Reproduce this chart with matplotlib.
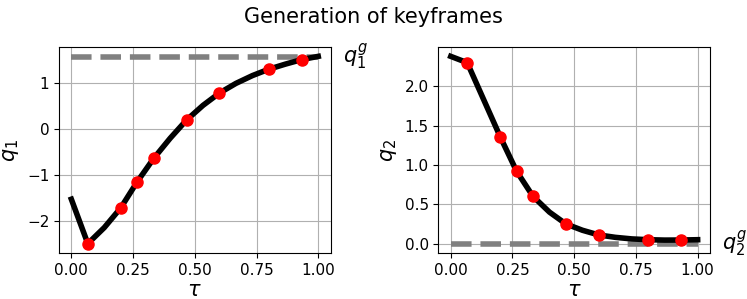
import numpy as np
import matplotlib
matplotlib.use("Agg")
import matplotlib.pyplot as plt

# trajectory samples at tau = k/15
tau = np.arange(16) / 15
q1 = [-1.53, -2.50, -2.15, -1.72, -1.15, -0.64, -0.20, 0.20,
      0.52, 0.79, 1.00, 1.17, 1.31, 1.42, 1.52, 1.59]
q2 = [2.38, 2.30, 1.83, 1.36, 0.92, 0.60, 0.40, 0.25,
      0.17, 0.11, 0.08, 0.06, 0.05, 0.045, 0.046, 0.05]
goals = [np.pi / 2, 0.0]

# keyframe indices
key_idx = [1, 3, 4, 5, 7, 9, 12, 14]

names = ['q_1', 'q_2']
series = [q1, q2]

fig, axes = plt.subplots(1, 2, figsize=(7.47, 2.99), dpi=100)
fig.subplots_adjust(left=59/747, right=710/747, bottom=1-253/299, top=1-47/299, wspace=0.397)
fig.text(0.5, 1 - 17/299, 'Generation of keyframes', ha='center', va='center', fontsize=15)

for ax, q, g, name in zip(axes, series, goals, names):
    q = np.array(q)
    ax.plot([0, 1], [g, g], '--', color='gray', lw=4)
    ax.plot(tau, q, color='black', lw=4)
    ax.plot(tau[key_idx], q[key_idx], 'o', color='red', markersize=8)
    ax.text(1.1, g, '$%s^g$' % name, fontsize=15, va='center', ha='left')
    ax.set_xlabel(r'$\tau$', fontsize=15, labelpad=2)
    ax.set_ylabel('$%s$' % name, fontsize=15)
    ax.set_xticks([0, 0.25, 0.5, 0.75, 1.0])
    ax.tick_params(labelsize=11)
    ax.grid(True)

plt.savefig('out.png')
